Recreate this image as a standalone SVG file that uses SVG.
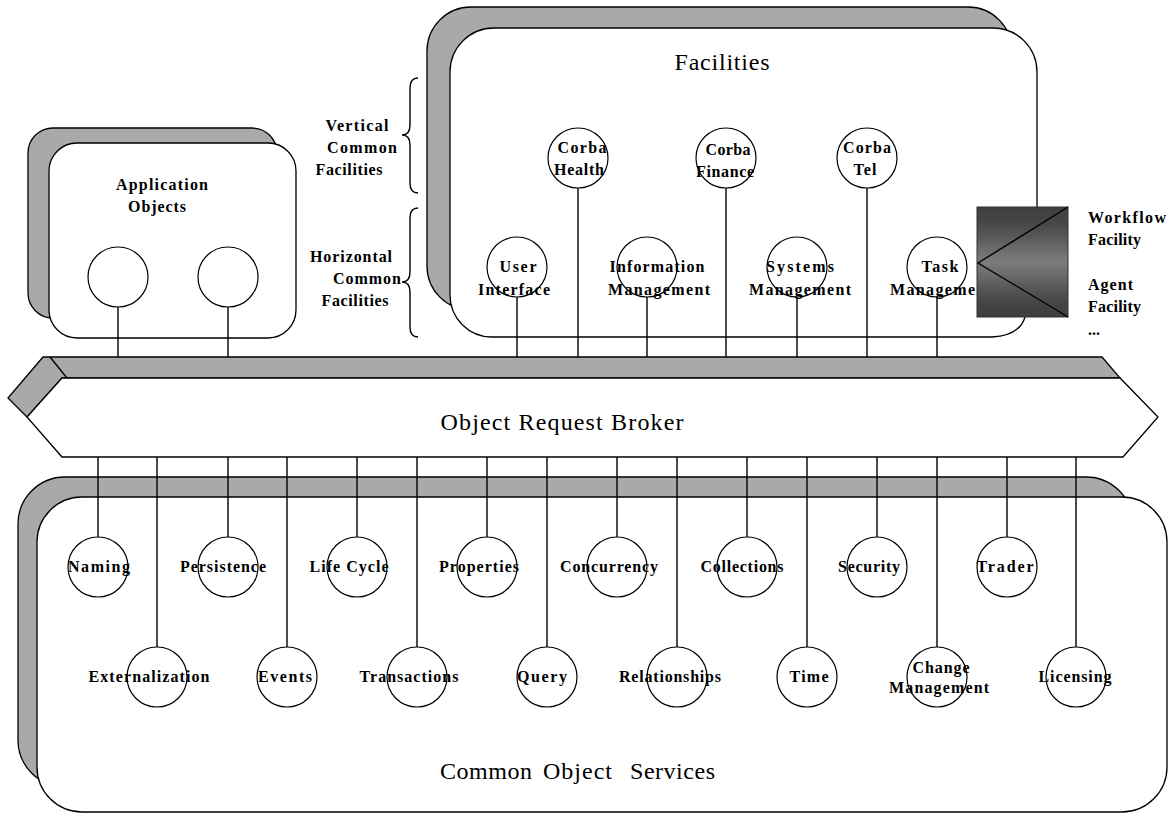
<svg xmlns="http://www.w3.org/2000/svg" width="1170" height="814" viewBox="0 0 1170 814">
<style>
.shadow{fill:#a9a9a9;stroke:#000;stroke-width:1.3}
.front{fill:#fff;stroke:#000;stroke-width:1.3}
.ln{stroke:#000;stroke-width:1.4;fill:none}
.c{fill:#fff;stroke:#000;stroke-width:1.2}
.lb{font-family:"Liberation Serif","Times New Roman",serif;font-weight:bold;font-size:16px;fill:#000;text-anchor:middle}
.lbl{font-family:"Liberation Serif","Times New Roman",serif;font-weight:bold;font-size:16px;fill:#000}
.big{font-family:"Liberation Serif","Times New Roman",serif;font-size:24px;fill:#000}
</style>
<defs>
<linearGradient id="wf" x1="0" y1="0" x2="0" y2="1">
<stop offset="0" stop-color="#3e3e3e"/>
<stop offset="0.15" stop-color="#474747"/>
<stop offset="0.28" stop-color="#5a5a5a"/>
<stop offset="0.4" stop-color="#6e6e6e"/>
<stop offset="0.5" stop-color="#7c7c7c"/>
<stop offset="0.6" stop-color="#6e6e6e"/>
<stop offset="0.72" stop-color="#5a5a5a"/>
<stop offset="0.85" stop-color="#474747"/>
<stop offset="1" stop-color="#3e3e3e"/>
</linearGradient>
</defs>
<rect width="1170" height="814" fill="#fff"/>

<g id="application-objects">
<rect class="shadow" x="28" y="128" width="249" height="190" rx="25"/>
<rect class="front" x="49" y="143" width="247" height="195" rx="28"/>
<text class="lb" x="162" y="190" textLength="92">Application</text>
<text class="lb" x="157" y="212" textLength="58">Objects</text>
<circle class="c" cx="118" cy="277" r="30"/>
<circle class="c" cx="228" cy="277" r="30"/>
</g>

<g id="facilities">
<rect class="shadow" x="427" y="7" width="585" height="303" rx="44"/>
<path class="front" d="M494,28 H993 A44,44 0 0 1 1037,72 V300 L1025,317 Q1020,335 992,337 H492 A42,42 0 0 1 450,295 V72 A44,44 0 0 1 494,28 Z"/>
<text class="big" x="722" y="70" text-anchor="middle" textLength="95">Facilities</text>
</g>

<g id="braces">
<path class="ln" d="M418,78 Q410,78 410,88 L410,125 Q410,135 402,135 Q410,135 410,145 L410,183 Q410,193 418,193"/>
<path class="ln" d="M418,208 Q410,208 410,218 L410,272 Q410,282 402,282 Q410,282 410,292 L410,327 Q410,337 418,337"/>
<text class="lb" x="357" y="131" textLength="63">Vertical</text>
<text class="lb" x="362" y="153" textLength="70">Common</text>
<text class="lb" x="349" y="175" textLength="67">Facilities</text>
<text class="lb" x="351" y="262" textLength="82">Horizontal</text>
<text class="lb" x="367" y="284" textLength="68">Common</text>
<text class="lb" x="355" y="306" textLength="67">Facilities</text>
</g>

<g id="common-object-services">
<rect class="shadow" x="18" y="477" width="1115" height="310" rx="47"/>
<rect class="front" x="37" y="497" width="1130" height="315" rx="45"/>
<text class="big" y="779" font-size="25"><tspan x="440" textLength="92">Common</tspan> <tspan x="543" textLength="69">Object</tspan> <tspan x="630" textLength="85">Services</tspan></text>
</g>

<g id="orb">
<polygon class="shadow" points="43,357 1102,357 1120,378 62,378 27,417 8,398"/>
<polygon class="front" points="62,378 1120,378 1158,417 1123,457 62,457 27,417"/>
<line class="ln" x1="50" y1="357" x2="67" y2="378"/>
<text class="big" x="562" y="430" text-anchor="middle" textLength="243">Object Request Broker</text>
</g>

<g id="connectors">
<line class="ln" x1="118" y1="307" x2="118" y2="357"/>
<line class="ln" x1="228" y1="307" x2="228" y2="357"/>
<line class="ln" x1="517" y1="297" x2="517" y2="357"/>
<line class="ln" x1="578" y1="188" x2="578" y2="357"/>
<line class="ln" x1="647" y1="297" x2="647" y2="357"/>
<line class="ln" x1="726" y1="188" x2="726" y2="357"/>
<line class="ln" x1="797" y1="297" x2="797" y2="357"/>
<line class="ln" x1="867" y1="188" x2="867" y2="357"/>
<line class="ln" x1="937" y1="297" x2="937" y2="357"/>
<line class="ln" x1="98" y1="457" x2="98" y2="537"/>
<line class="ln" x1="228" y1="457" x2="228" y2="537"/>
<line class="ln" x1="357" y1="457" x2="357" y2="537"/>
<line class="ln" x1="487" y1="457" x2="487" y2="537"/>
<line class="ln" x1="617" y1="457" x2="617" y2="537"/>
<line class="ln" x1="747" y1="457" x2="747" y2="537"/>
<line class="ln" x1="877" y1="457" x2="877" y2="537"/>
<line class="ln" x1="1007" y1="457" x2="1007" y2="537"/>
<line class="ln" x1="157" y1="457" x2="157" y2="647"/>
<line class="ln" x1="287" y1="457" x2="287" y2="647"/>
<line class="ln" x1="417" y1="457" x2="417" y2="647"/>
<line class="ln" x1="547" y1="457" x2="547" y2="647"/>
<line class="ln" x1="677" y1="457" x2="677" y2="647"/>
<line class="ln" x1="807" y1="457" x2="807" y2="647"/>
<line class="ln" x1="937" y1="457" x2="937" y2="647"/>
<line class="ln" x1="1076" y1="457" x2="1076" y2="647"/>
</g>

<g id="corba-health"><circle class="c" cx="578" cy="158" r="30"/><text class="lb" x="582" y="153" textLength="49">Corba</text><text class="lb" x="579" y="175" textLength="50">Health</text></g>
<g id="corba-finance"><circle class="c" cx="726" cy="158" r="30"/><text class="lb" x="728" y="155" textLength="45">Corba</text><text class="lb" x="725" y="177" textLength="58">Finance</text></g>
<g id="corba-tel"><circle class="c" cx="867" cy="158" r="30"/><text class="lb" x="867" y="153" textLength="48">Corba</text><text class="lb" x="865" y="175" textLength="23">Tel</text></g>
<g id="user-interface"><circle class="c" cx="517" cy="267" r="30"/><text class="lb" x="518" y="272" textLength="37">User</text><text class="lb" x="514" y="295" textLength="72">Interface</text></g>
<g id="information-management"><circle class="c" cx="647" cy="267" r="30"/><text class="lb" x="657" y="272" textLength="95">Information</text><text class="lb" x="659" y="295" textLength="102">Management</text></g>
<g id="systems-management"><circle class="c" cx="797" cy="267" r="30"/><text class="lb" x="800" y="272" textLength="68">Systems</text><text class="lb" x="800" y="295" textLength="102">Management</text></g>
<g id="task-management"><circle class="c" cx="937" cy="267" r="30"/><text class="lb" x="940" y="272" textLength="37">Task</text><text class="lb" x="941" y="295" textLength="102">Management</text></g>

<g id="workflow-facility">
<rect x="977" y="207" width="91" height="110" fill="url(#wf)" stroke="#333" stroke-width="1"/>
<path class="ln" d="M1068,207 L978,263 L1068,317"/>
<text class="lbl" x="1088" y="223" textLength="78">Workflow</text>
<text class="lbl" x="1088" y="245" textLength="53">Facility</text>
<text class="lbl" x="1088" y="290" textLength="45">Agent</text>
<text class="lbl" x="1088" y="312" textLength="53">Facility</text>
<text class="lbl" x="1088" y="335">...</text>
</g>

<g id="naming"><circle class="c" cx="98" cy="567" r="30"/><text class="lb" x="99" y="572" textLength="62">Naming</text></g>
<g id="persistence"><circle class="c" cx="228" cy="567" r="30"/><text class="lb" x="223" y="572" textLength="86">Persistence</text></g>
<g id="life-cycle"><circle class="c" cx="357" cy="567" r="30"/><text class="lb" x="349" y="572" textLength="79">Life Cycle</text></g>
<g id="properties"><circle class="c" cx="487" cy="567" r="30"/><text class="lb" x="479" y="572" textLength="80">Properties</text></g>
<g id="concurrency"><circle class="c" cx="617" cy="567" r="30"/><text class="lb" x="609" y="572" textLength="98">Concurrency</text></g>
<g id="collections"><circle class="c" cx="747" cy="567" r="30"/><text class="lb" x="742" y="572" textLength="83">Collections</text></g>
<g id="security"><circle class="c" cx="877" cy="567" r="30"/><text class="lb" x="869" y="572" textLength="62">Security</text></g>
<g id="trader"><circle class="c" cx="1007" cy="567" r="30"/><text class="lb" x="1005" y="572" textLength="57">Trader</text></g>
<g id="externalization"><circle class="c" cx="157" cy="677" r="30"/><text class="lb" x="149" y="682" textLength="121">Externalization</text></g>
<g id="events"><circle class="c" cx="287" cy="677" r="30"/><text class="lb" x="285" y="682" textLength="54">Events</text></g>
<g id="transactions"><circle class="c" cx="417" cy="677" r="30"/><text class="lb" x="409" y="682" textLength="99">Transactions</text></g>
<g id="query"><circle class="c" cx="547" cy="677" r="30"/><text class="lb" x="542" y="682" textLength="50">Query</text></g>
<g id="relationships"><circle class="c" cx="677" cy="677" r="30"/><text class="lb" x="670" y="682" textLength="102">Relationships</text></g>
<g id="time"><circle class="c" cx="807" cy="677" r="30"/><text class="lb" x="809" y="682" textLength="39">Time</text></g>
<g id="change-management"><circle class="c" cx="937" cy="677" r="30"/><text class="lb" x="941" y="673" textLength="57">Change</text><text class="lb" x="939" y="693" textLength="100">Management</text></g>
<g id="licensing"><circle class="c" cx="1076" cy="677" r="30"/><text class="lb" x="1075" y="682" textLength="73">Licensing</text></g>
</svg>
